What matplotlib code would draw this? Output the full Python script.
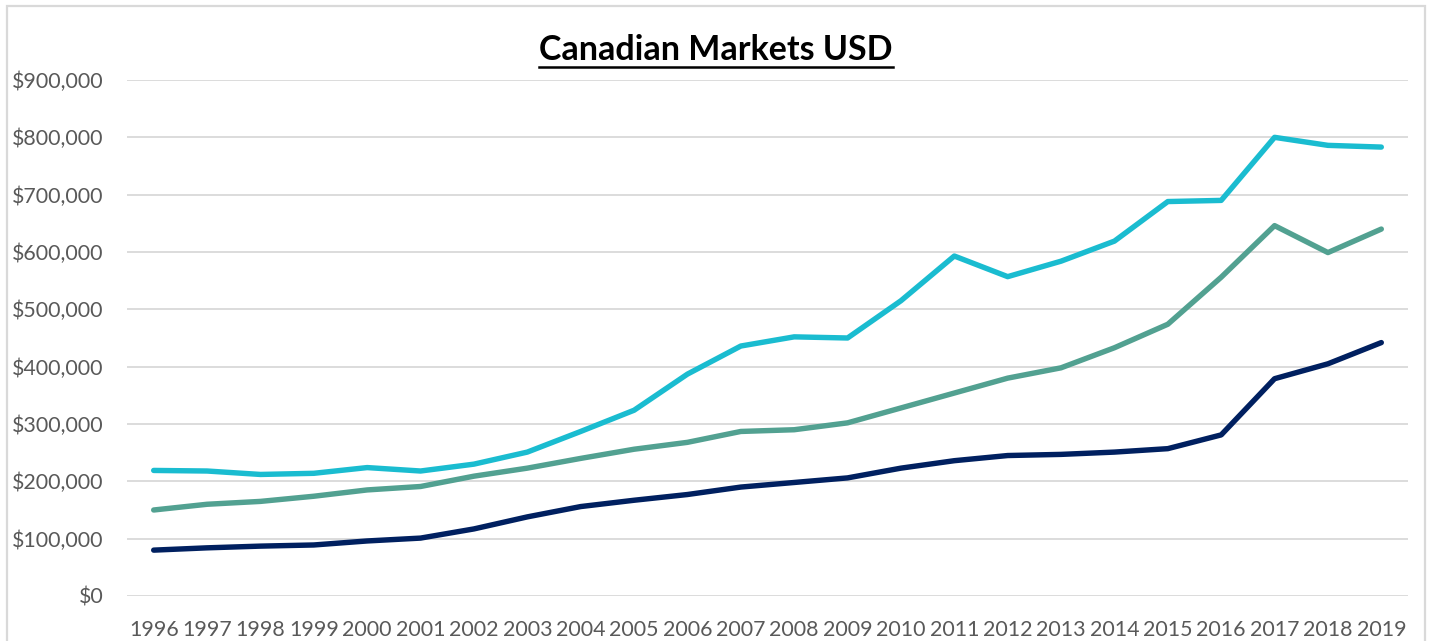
import matplotlib
matplotlib.use("Agg")
import matplotlib.pyplot as plt
from matplotlib.patches import Rectangle
from matplotlib.lines import Line2D
from matplotlib.ticker import FuncFormatter

years = [str(y) for y in range(1996, 2020)]
series_cyan = [219000, 218000, 212000, 214000, 224000, 218000, 230000, 251000, 287000, 324000,
               387000, 436000, 452000, 450000, 515000, 593000, 557000, 584000, 619000, 688000,
               690000, 800000, 786000, 783000]
series_green = [150000, 160000, 165000, 174000, 185000, 191000, 209000, 223000, 240000, 256000,
                268000, 287000, 290000, 302000, 328000, 354000, 380000, 398000, 433000, 474000,
                556000, 646000, 599000, 640000]
series_navy = [80000, 84000, 87000, 89000, 96000, 101000, 117000, 138000, 156000, 167000,
               177000, 190000, 198000, 206000, 223000, 236000, 245000, 247000, 251000, 257000,
               281000, 379000, 405000, 442000]
title = "Canadian Markets USD"

W, H = 1429, 641
fig = plt.figure(figsize=(W / 100, H / 100), dpi=100)
fig.patch.set_facecolor("white")

# outer chart border
fig.patches.append(Rectangle((7 / W, -0.01), (1425 - 7) / W, (H - 6) / H + 0.01,
                             transform=fig.transFigure, fill=False,
                             edgecolor="#D9D9D9", linewidth=1.6))

ax = fig.add_axes([127 / W, 1 - 596 / H, (1408 - 127) / W, (596 - 80) / H])
x = list(range(len(years)))
for vals, col in [(series_navy, "#002060"), (series_green, "#52A191"), (series_cyan, "#1ABCD0")]:
    ax.plot(x, vals, color=col, linewidth=3.9, solid_capstyle="round", solid_joinstyle="round",
            zorder=3)

ax.set_xlim(-0.5, len(years) - 0.5)
ax.set_ylim(0, 900000)
ax.set_yticks(range(0, 900001, 100000))
ax.yaxis.set_major_formatter(FuncFormatter(lambda v, p: "${:,.0f}".format(v)))
ax.set_xticks(x)
ax.set_xticklabels(years)
for s in ax.spines.values():
    s.set_visible(False)
ax.grid(axis="y", color="#D9D9D9", linewidth=1.3, zorder=0)
ax.set_axisbelow(True)
ax.tick_params(axis="both", length=0, labelsize=15.4, labelcolor="#595959")
ax.tick_params(axis="y", pad=17)
ax.tick_params(axis="x", pad=17)
for lab in ax.get_xticklabels() + ax.get_yticklabels():
    lab.set_family(["Lato", "DejaVu Sans"])

t = fig.text(716 / W, 1 - 50 / H, title, ha="center", va="center", fontsize=24.5,
             fontweight="bold", family=["Lato", "DejaVu Sans"], color="black")
fig.canvas.draw()
bb = t.get_window_extent()
uy = 1 - 66.5 / H
fig.lines.append(Line2D([bb.x0 / W, bb.x1 / W], [uy, uy], transform=fig.transFigure,
                        color="black", linewidth=1.8))

fig.savefig("out.png", dpi=100, facecolor="white")
